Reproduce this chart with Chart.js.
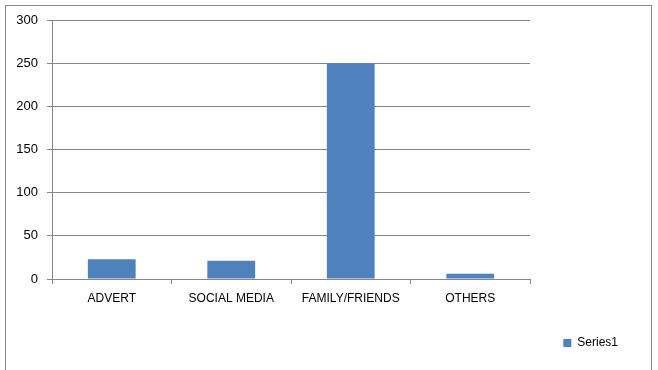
<!DOCTYPE html>
<html>
<head>
<meta charset="utf-8">
<script src="https://cdn.jsdelivr.net/npm/chart.js@4.4.0/dist/chart.umd.min.js"></script>
<style>
  html, body { margin: 0; padding: 0; background: #fff; }
  #wrap { position: relative; width: 658px; height: 370px; overflow: hidden; }
  #frame { position: absolute; left: 5px; top: 5px; width: 647px; height: 400px; border: 1px solid #888; box-sizing: border-box; }
  #chart { position: absolute; left: 0; top: 0; }
</style>
</head>
<body>
<div id="wrap">
  <div id="frame"></div>
  <canvas id="chart" width="658" height="370"></canvas>
</div>
<script>
const categories = ["ADVERT", "SOCIAL MEDIA", "FAMILY/FRIENDS", "OTHERS"];
const series1 = [23, 21, 250, 6];
const yMin = 0, yMax = 300, yStep = 50;

const GRID = "#868686";

Chart.defaults.font.family = "'Liberation Sans', Arial, sans-serif";
Chart.defaults.color = "#000";

new Chart(document.getElementById("chart").getContext("2d"), {
  type: "bar",
  data: {
    labels: categories,
    datasets: [{
      label: "Series1",
      data: series1,
      backgroundColor: "#4F81BD",
      borderWidth: 0,
      categoryPercentage: 0.4,
      barPercentage: 1.0
    }]
  },
  options: {
    responsive: false,
    animation: false,
    layout: { padding: { top: 20, left: 5, right: 30, bottom: 11 } },
    plugins: {
      tooltip: { enabled: false },
      legend: {
        position: "bottom",
        align: "end",
        labels: { boxWidth: 8, boxHeight: 8, font: { size: 12 }, color: "#000" }
      }
    },
    scales: {
      x: {
        grid: { drawOnChartArea: false, color: GRID, tickLength: 5, offset: true },
        border: { color: GRID },
        ticks: { font: { size: 12 }, padding: 7, maxRotation: 0 },
        afterFit: (s) => { s.height = 48; }
      },
      y: {
        min: yMin,
        max: yMax,
        grid: { color: GRID, tickLength: 5 },
        border: { color: GRID },
        ticks: { stepSize: yStep, font: { size: 13 }, padding: 9 },
        afterFit: (s) => { s.width = 47; }
      },
      // empty right axis, only reserves the space to the right of the plot
      y2: {
        position: "right",
        display: true,
        grid: { display: false },
        border: { display: false },
        ticks: { display: false },
        afterFit: (s) => { s.width = 98; }
      }
    }
  }
});
</script>
</body>
</html>
